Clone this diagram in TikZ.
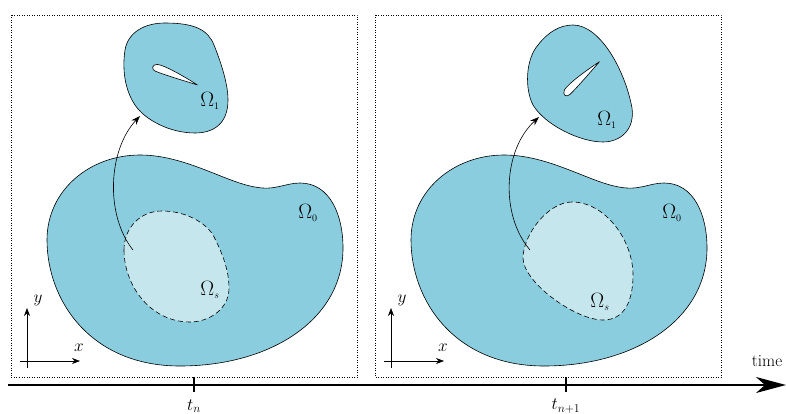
\documentclass[tikz,border=0pt]{standalone}
\usetikzlibrary{arrows.meta}
\definecolor{domblue}{RGB}{137,205,222}
\definecolor{subblue}{RGB}{198,230,238}
\begin{document}
\begin{tikzpicture}[x=1pt,y=-1pt,every node/.style={font=\fontsize{17}{20}\selectfont},
  frame/.style={dotted,line width=0.5pt},
  dom/.style={draw,fill=domblue,line width=0.6pt},
  sub/.style={draw,dash pattern=on 5pt off 3pt,fill=subblue,line width=0.6pt},
  foil/.style={draw,fill=white,line width=0.6pt},
  lab/.style={font=\fontsize{20}{24}\selectfont},
  axis/.style={-{Stealth[length=8pt,width=6pt]},line width=0.6pt},
  link/.style={-{Stealth[length=9pt,width=6.5pt]},line width=0.6pt}]
\useasboundingbox (0,0) rectangle (786,414);
% common parts of the two snapshots
\foreach \dx/\i in {0/a,364/b} {
\begin{scope}[shift={(\dx,0)}]
\draw[frame] (11,15) rectangle (357,377);
\draw[dom] (47,240) .. controls (47,190) and (90,155) .. (140,155)
  .. controls (185,155) and (225,182) .. (255,187)
  .. controls (275,191) and (285,183) .. (300,183)
  .. controls (330,183) and (343,215) .. (343,248)
  .. controls (343,320) and (270,366) .. (180,366)
  .. controls (90,366) and (47,300) .. (47,240) -- cycle;
\node[lab] (om0\i) at (308,213) {$\Omega_{\scriptscriptstyle 0}$};
\coordinate (o\i) at (27,361);
\coordinate (ox\i) at (80,361);
\coordinate (oy\i) at (27,308);
\draw[axis] ([xshift=-7]o\i) -- (ox\i);
\draw[axis] ([yshift=-7]o\i) -- (oy\i);
\node (x\i) at (79,348) {$x$};
\node (y\i) at (38,300) {$y$};
\end{scope}
}
% time t_n
\draw[sub] (124,250) .. controls (124,228) and (140,211) .. (162,211)
  .. controls (185,211) and (205,222) .. (213,235)
  .. controls (222,252) and (229,270) .. (229,288)
  .. controls (229,310) and (208,322) .. (190,322)
  .. controls (150,322) and (124,285) .. (124,250) -- cycle;
\node[lab] (oms1) at (210,290) {$\Omega_{\scriptscriptstyle s}$};
\draw[dom] (165,23) .. controls (195,23) and (208,30) .. (214,45)
  .. controls (222,65) and (228,85) .. (228,100)
  .. controls (228,125) and (212,133) .. (195,133)
  .. controls (170,133) and (145,120) .. (135,105)
  .. controls (125,90) and (122,70) .. (125,50)
  .. controls (128,32) and (145,23) .. (165,23) -- cycle;
\node[lab] (om1a) at (210,101) {$\Omega_{\scriptscriptstyle 1}$};
% time t_{n+1}
\draw[sub] (572,202) .. controls (548,202) and (523,235) .. (523,258)
  .. controls (523,282) and (575,320) .. (603,320)
  .. controls (625,320) and (633,300) .. (633,275)
  .. controls (633,240) and (605,202) .. (572,202) -- cycle;
\node[lab] (oms2) at (600,302) {$\Omega_{\scriptscriptstyle s}$};
\draw[dom] (573,25) .. controls (600,25) and (625,70) .. (632,108)
  .. controls (635,130) and (620,142) .. (603,142)
  .. controls (580,142) and (545,125) .. (533,105)
  .. controls (525,90) and (525,60) .. (538,45)
  .. controls (548,32) and (560,25) .. (573,25) -- cycle;
\node[lab] (om1b) at (607,120) {$\Omega_{\scriptscriptstyle 1}$};
% airfoils
\foreach \px/\py/\ang in {153/67/-22,565/95/44}
  \draw[foil,shift={(\px,\py)},rotate=\ang] (48,0) .. controls (32,-3) and (10,-6) .. (3,-4) .. controls (-2,-2) and (-1,3) .. (4,3) .. controls (16,3) and (35,1) .. (48,0);
% motion of the rigid part
\coordinate (s1) at (133,250);
\coordinate (w1) at (140,116);
\draw[link] (s1) .. controls (105,215) and (108,150) .. (w1);
\coordinate (s2) at (530,250);
\coordinate (w2) at (539,117);
\draw[link] (s2) .. controls (500,215) and (503,150) .. (w2);
% time axis
\coordinate (t0) at (8,385);
\coordinate (t1) at (786,385);
\draw[line width=1.6pt,-{Stealth[length=30pt,width=16pt,inset=9pt]}] (t0) -- (t1);
\foreach \tx/\lab/\n in {194/t_n/1,566/t_{n+1}/2} {
  \draw[line width=1.2pt] (\tx,377) -- (\tx,392);
  \node (tk\n) at (\tx,406) {$\lab$};
}
\node (time) at (767,361) {time};
\end{tikzpicture}
\end{document}
